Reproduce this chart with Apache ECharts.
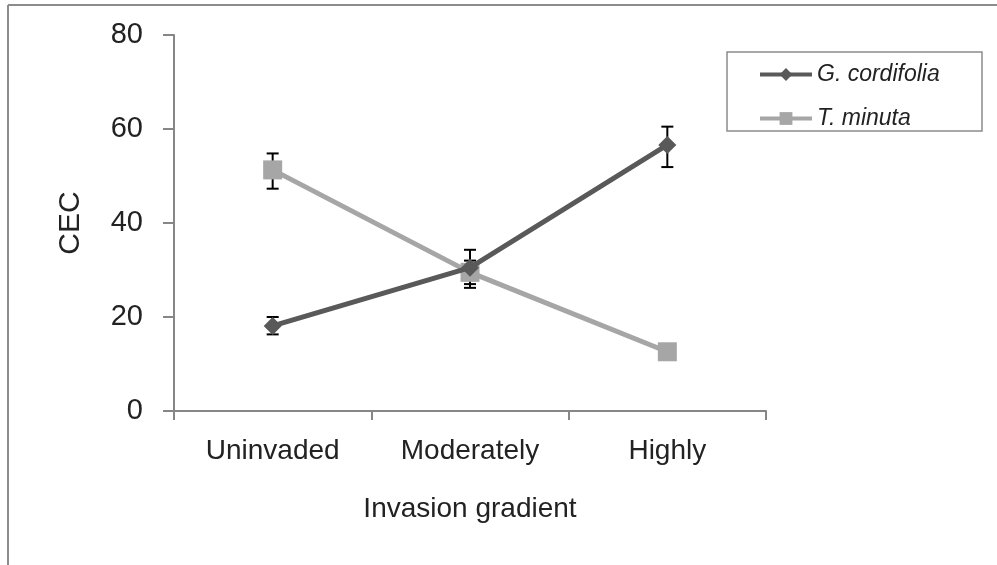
<!DOCTYPE html>
<html>
<head>
<meta charset="utf-8">
<script src="https://cdn.jsdelivr.net/npm/echarts@6/dist/echarts.min.js"></script>
<style>html,body{margin:0;padding:0;background:#fff;}#c{width:997px;height:565px;}</style>
</head>
<body>
<div id="c"></div>
<script>
var categories = ['Uninvaded', 'Moderately', 'Highly'];
var yTicks = [0, 20, 40, 60, 80];
var gName = 'G. cordifolia';
var gValues = [18.1, 30.5, 56.6];
var gLow = [16.3, 26.2, 51.9];
var gHigh = [20.0, 34.3, 60.5];
var tName = 'T. minuta';
var tValues = [51.3, 29.5, 12.6];
var tLow = [47.3, 27.0, 11.8];
var tHigh = [54.8, 32.0, 13.4];

var font = '"Liberation Sans", Arial, sans-serif';
var chart = echarts.init(document.getElementById('c'));

function errData(low, high) {
  return categories.map(function (c, i) { return [i, low[i], high[i]]; });
}
function errSeries(low, high) {
  return {
    type: 'custom',
    z: 1,
    silent: true,
    data: errData(low, high),
    encode: { x: 0, y: [1, 2] },
    renderItem: function (params, api) {
      var lo = api.coord([api.value(0), api.value(1)]);
      var hi = api.coord([api.value(0), api.value(2)]);
      var w = 6;
      var st = { stroke: '#000', lineWidth: 2 };
      return {
        type: 'group',
        children: [
          { type: 'line', shape: { x1: lo[0], y1: lo[1], x2: hi[0], y2: hi[1] }, style: st },
          { type: 'line', shape: { x1: lo[0] - w, y1: lo[1], x2: lo[0] + w, y2: lo[1] }, style: st },
          { type: 'line', shape: { x1: hi[0] - w, y1: hi[1], x2: hi[0] + w, y2: hi[1] }, style: st }
        ]
      };
    }
  };
}

chart.setOption({
  animation: false,
  backgroundColor: '#fff',
  grid: { left: 174, top: 35, width: 592, height: 376 },
  xAxis: {
    type: 'category',
    data: categories,
    boundaryGap: true,
    name: 'Invasion gradient',
    nameLocation: 'middle',
    nameGap: 84,
    nameTextStyle: { fontFamily: font, fontSize: 28, color: '#222' },
    axisLine: { lineStyle: { color: '#868686', width: 2 } },
    axisTick: { show: true, length: 9, interval: 0, lineStyle: { color: '#868686', width: 2 } },
    axisLabel: { fontFamily: font, fontSize: 28, color: '#222', margin: 26 }
  },
  yAxis: {
    type: 'value',
    min: yTicks[0],
    max: yTicks[yTicks.length - 1],
    interval: 20,
    name: 'CEC',
    nameLocation: 'middle',
    nameGap: 88,
    nameTextStyle: { fontFamily: font, fontSize: 30, color: '#222' },
    axisLine: { show: true, lineStyle: { color: '#868686', width: 2 } },
    axisTick: { show: true, length: 11, lineStyle: { color: '#868686', width: 2 } },
    splitLine: { show: false },
    axisLabel: { fontFamily: font, fontSize: 29, color: '#222', margin: 31 }
  },
  legend: {
    orient: 'vertical',
    left: 753,
    top: 58,
    itemWidth: 52,
    itemHeight: 16,
    itemGap: 21,
    lineStyle: { width: 4 },
    textStyle: { fontFamily: font, fontSize: 23, fontStyle: 'italic', color: '#222' },
    data: [gName, tName]
  },
  graphic: [
    { type: 'line', shape: { x1: 8, y1: 5, x2: 997, y2: 5 }, style: { stroke: '#8c8c8c', lineWidth: 2 } },
    { type: 'line', shape: { x1: 8, y1: 5, x2: 8, y2: 565 }, style: { stroke: '#8c8c8c', lineWidth: 2 } },
    { type: 'rect', shape: { x: 727, y: 52, width: 255, height: 79 }, style: { fill: 'none', stroke: '#8c8c8c', lineWidth: 1.5 } }
  ],
  series: [
    errSeries(gLow, gHigh),
    errSeries(tLow, tHigh),
    {
      name: tName,
      type: 'line',
      z: 2,
      data: tValues,
      symbol: 'rect',
      symbolSize: 19,
      lineStyle: { color: '#a6a6a6', width: 5 },
      itemStyle: { color: '#a6a6a6' }
    },
    {
      name: gName,
      type: 'line',
      z: 3,
      data: gValues,
      symbol: 'diamond',
      symbolSize: 18,
      lineStyle: { color: '#595959', width: 5 },
      itemStyle: { color: '#595959' }
    }
  ]
});
</script>
</body>
</html>
